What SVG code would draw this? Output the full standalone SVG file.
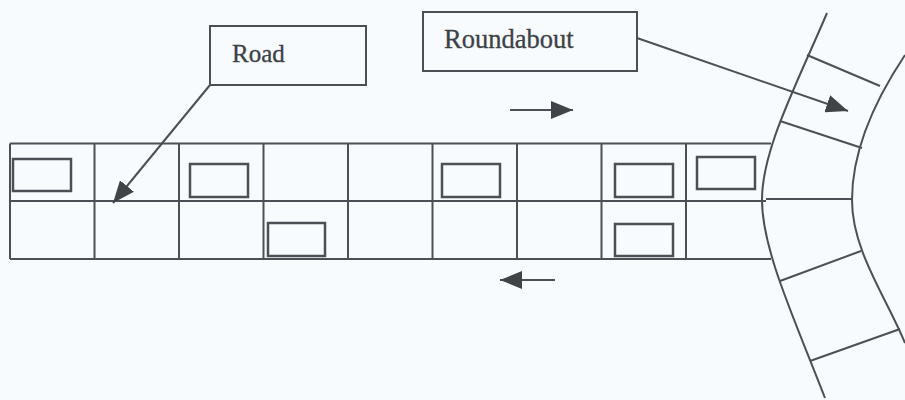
<svg xmlns="http://www.w3.org/2000/svg" width="905" height="400" viewBox="0 0 905 400">
<style>
.ln{stroke:#4b5057;stroke-width:2;fill:none}
.car{stroke:#4b5057;stroke-width:2.5;fill:none}
.box{stroke:#4b5057;stroke-width:2;fill:#f7fbfd}
.lbl{font-family:"Liberation Serif","Times New Roman",serif;fill:#3c4146;stroke:#3c4146;stroke-width:0.3}
.arr{stroke:#4b5057;stroke-width:2;fill:none}
</style>
<defs>
<marker id="ah" viewBox="0 0 22 18" refX="22" refY="9" markerWidth="22" markerHeight="18" markerUnits="userSpaceOnUse" orient="auto">
<path d="M0,0 L22,9 L0,18 z" fill="#3f4449"/>
</marker>
</defs>
<rect width="905" height="400" fill="#f7fbfd"/>
<g id="road">
<path class="ln" d="M10,143.5 H771 M10,201 H766 M10,259 H771"/>
<path class="ln" d="M10,143.5 V259 M94.5,143.5 V259 M179,143.5 V259 M263.5,143.5 V259 M348,143.5 V259 M432.5,143.5 V259 M517,143.5 V259 M601.5,143.5 V259 M686,143.5 V259"/>
</g>
<g id="roundabout">
<path class="ln" d="M827,13 C795,88 762,150 762,200 C762,250 795,320 825,398"/>
<path class="ln" d="M905,55 C875,100 852,150 852,200 C852,250 885,295 905,343"/>
<path class="ln" d="M807,55 L880,86 M780,121 L862,148 M766,199 L852,199 M780,281 L861,251 M810,361 L900,329"/>
</g>
<g id="cars">
<rect class="car" x="13" y="159" width="58" height="32"/>
<rect class="car" x="190" y="164" width="58" height="33"/>
<rect class="car" x="268" y="223" width="57" height="33"/>
<rect class="car" x="442" y="164" width="58" height="33"/>
<rect class="car" x="615" y="164" width="58" height="33"/>
<rect class="car" x="615" y="224" width="58" height="32"/>
<rect class="car" x="697" y="157" width="58" height="32"/>
</g>
<g id="road-label">
<rect class="box" x="210" y="26" width="156" height="59"/>
<text class="lbl" x="232" y="62" font-size="25">Road</text>
</g>
<g id="roundabout-label">
<rect class="box" x="423" y="12" width="214" height="59"/>
<text class="lbl" x="444" y="48" font-size="26.5">Roundabout</text>
</g>
<g id="connectors">
<line class="arr" x1="210" y1="85" x2="113" y2="203" marker-end="url(#ah)"/>
<line class="arr" x1="637" y1="38" x2="848" y2="111" marker-end="url(#ah)"/>
<line class="arr" x1="510" y1="110" x2="573" y2="110" marker-end="url(#ah)"/>
<line class="arr" x1="555" y1="280" x2="500" y2="280" marker-end="url(#ah)"/>
</g>
</svg>
